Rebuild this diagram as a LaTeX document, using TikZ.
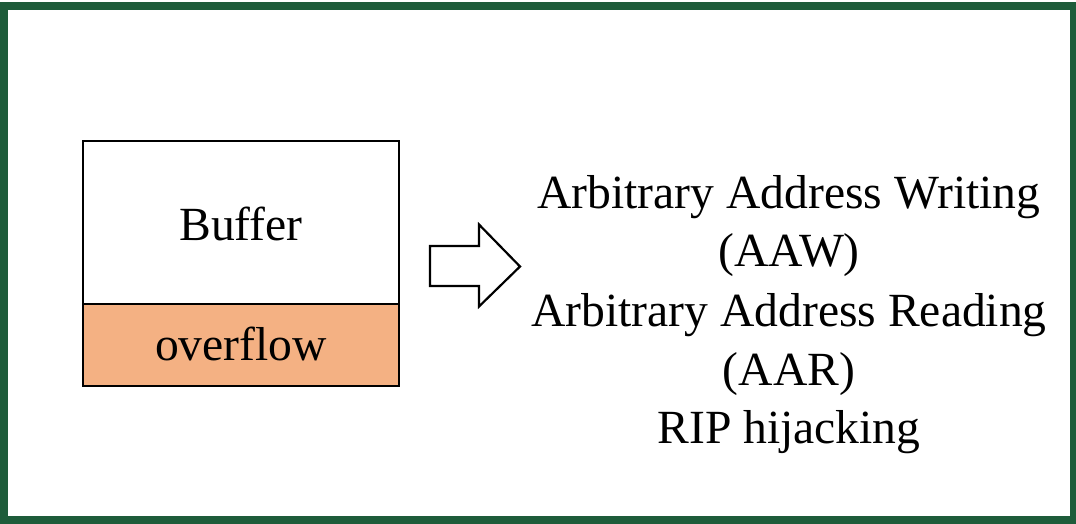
\documentclass[tikz,border=0pt]{standalone}
\usepackage{fontspec}
\setmainfont{Liberation Serif}
\definecolor{framegreen}{RGB}{30,92,58}
\definecolor{overflowfill}{HTML}{F4B183}
\begin{document}
\begin{tikzpicture}[x=1pt,y=-1pt,
  cell/.style={draw=black,line width=2.2pt},
  label/.style={font=\fontsize{47.6}{58.5}\selectfont,inner sep=0pt},
  blockarrow/.style={draw=black,line width=2.2pt,fill=white,line join=miter}]
  \useasboundingbox (0,0) rectangle (1076,523);
  % outer frame
  \draw[framegreen,line width=8pt] (4,6) rectangle (1074,520);
  % buffer with its overflow region
  \filldraw[cell,fill=white] (83,141) rectangle (399,304);
  \filldraw[cell,fill=overflowfill] (83,304) rectangle (399,386);
  \node[label,anchor=base] (buf) at (241,240) {Buffer};
  \node[label,anchor=base] (ovf) at (241,360) {overflow};
  % block arrow
  \draw[blockarrow] (430,246) -- (479,246) -- (479,224.5) -- (520,266.5)
    -- (479,306.5) -- (479,286) -- (430,286) -- cycle;
  % consequences
  \node[label,anchor=base] (l1) at (789,208) {Arbitrary Address Writing};
  \node[label,anchor=base] (l2) at (789,266.5) {(AAW)};
  \node[label,anchor=base] (l3) at (789,326) {Arbitrary Address Reading};
  \node[label,anchor=base] (l4) at (789,385) {(AAR)};
  \node[label,anchor=base] (l5) at (789,443) {RIP hijacking};
\end{tikzpicture}
\end{document}
